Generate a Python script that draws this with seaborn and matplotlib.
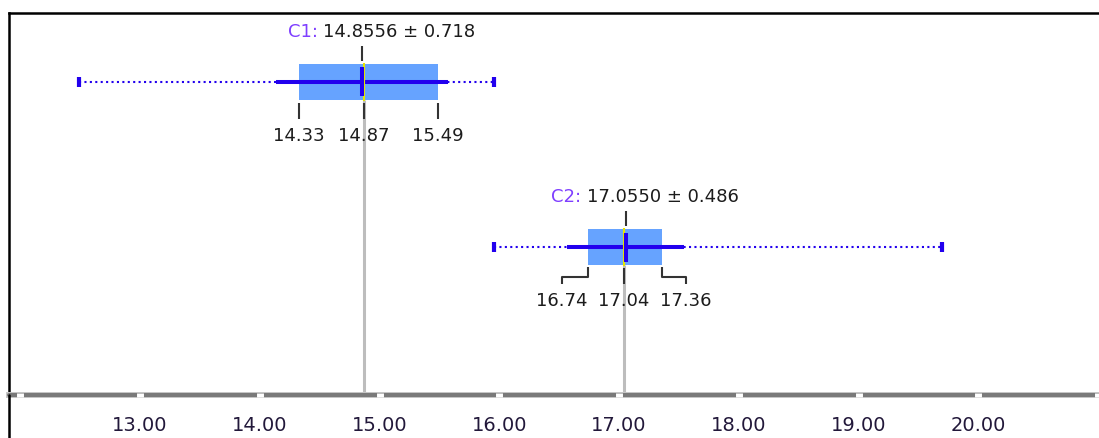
import numpy as np
import pandas as pd
import matplotlib.pyplot as plt
import seaborn as sns

# summary stats per group
names = ['C1', 'C2']
means = [14.8556, 17.0550]
sds = [0.718, 0.486]
q1s = [14.33, 16.74]
medians = [14.87, 17.04]
q3s = [15.49, 17.36]
mins = [12.49, 15.96]
maxs = [15.96, 19.70]
xticks = [12, 13, 14, 15, 16, 17, 18, 19, 20, 21]
xtick_labels = ['', '13.00', '14.00', '15.00', '16.00', '17.00', '18.00', '19.00', '20.00', '']

# horizontal shift (px) of the q1/median/q3 labels, crowded boxes get bent leaders
label_shift = [[0, 0, 0], [-26, 0, 24]]

df = pd.DataFrame({'name': names, 'mean': means, 'sd': sds, 'q1': q1s,
                   'median': medians, 'q3': q3s, 'min': mins, 'max': maxs})

W, H, DPI = 1099, 439, 100
box_blue = '#66a3ff'
line_blue = '#2200ee'
yellow = '#e6e600'
tick_col = '#333333'
txt_col = '#1c1c1c'
name_col = '#7f3fff'
fs = 13

sns.set_theme(style='white')
plt.rcParams['font.family'] = ['DejaVu Sans']

fig = plt.figure(figsize=(W / DPI, H / DPI), dpi=DPI)
ax_l, ax_r, ax_t, ax_b = 9, 1099, 14, 396
ax = fig.add_axes([ax_l / W, 1 - ax_b / H, (ax_r - ax_l) / W, (ax_b - ax_t) / H])
xlim = (11.906, 21.008)
ylim = (1.894, -0.414)
ax.set_xlim(*xlim)
ax.set_ylim(*ylim)
px_x = (xlim[1] - xlim[0]) / (ax_r - ax_l)
px_y = (ylim[0] - ylim[1]) / (ax_b - ax_t)

for i, row in df.iterrows():
    y = i
    # min..max dotted range
    ax.hlines(y, row['min'], row['max'], color=line_blue, lw=1.5,
              linestyle=(0, (1, 1.6)), zorder=2)
    ax.vlines([row['min'], row['max']], y - 5 * px_y, y + 5 * px_y,
              color=line_blue, lw=3, zorder=2)
    # guide line from the box down to the axis
    ax.vlines(row['median'], y + 18 * px_y, ylim[0], color='#bdbdbd', lw=2.2, zorder=1)
    # quartile box
    ax.barh(y, row['q3'] - row['q1'], left=row['q1'], height=36 * px_y,
            color=box_blue, lw=0, zorder=3)
    # mean +- sd
    ax.hlines(y, row['mean'] - row['sd'], row['mean'] + row['sd'],
              color=line_blue, lw=2.9, zorder=4)
    ax.vlines(row['median'], y - 19 * px_y, y + 19 * px_y, color=yellow, lw=1.5, zorder=5)
    ax.vlines(row['mean'], y - 14.5 * px_y, y + 14.5 * px_y, color=line_blue, lw=2.9, zorder=6)

    # title above the box
    ax.vlines(row['mean'], y - 36 * px_y, y - 21 * px_y, color=tick_col, lw=1.5)
    split = row['mean'] - 44 * px_x
    ax.text(split, y - 51 * px_y, row['name'] + ':', color=name_col, fontsize=fs,
            ha='right', va='center')
    ax.text(split + 5 * px_x, y - 51 * px_y, f"{row['mean']:.4f} \u00b1 {row['sd']:.3f}",
            color=txt_col, fontsize=fs, ha='left', va='center')

    # quartile labels below
    for v, s in zip([row['q1'], row['median'], row['q3']], label_shift[i]):
        if s == 0:
            xs = [v, v]
            ys = [y + 21 * px_y, y + 37 * px_y]
        else:
            xs = [v, v, v + s * px_x, v + s * px_x]
            ys = [y + 20 * px_y, y + 30 * px_y, y + 30 * px_y, y + 37 * px_y]
        ax.plot(xs, ys, color=tick_col, lw=1.5, solid_capstyle='butt', zorder=2)
        ax.text(v + s * px_x, y + 53 * px_y, f'{v:.2f}', color=txt_col, fontsize=fs,
                ha='center', va='center')

# frame and axis bar
ax.spines['right'].set_visible(False)
for side in ['top', 'left']:
    ax.spines[side].set_color('black')
    ax.spines[side].set_linewidth(1.8)
# left frame runs on to the bottom of the picture
fig.add_artist(plt.Line2D([ax_l / W, ax_l / W], [0, 1 - ax_b / H], color='black',
                          lw=1.8, transform=fig.transFigure))
ax.spines['bottom'].set_color('#c8c8c8')
ax.spines['bottom'].set_linewidth(4.3)
ax.axhline(ylim[0], color='#7a7a7a', lw=2.9, clip_on=False, zorder=2.6)
ax.xaxis.set_zorder(3)

ax.set_yticks([])
ax.set_xticks(xticks)
ax.set_xticklabels(xtick_labels)
ax.tick_params(axis='x', direction='inout', length=2.5, width=5, color='white',
               labelsize=14, labelcolor='#22183a', pad=13, bottom=True)
ax.set_xlabel('')
ax.set_ylabel('')

fig.savefig('out.png', dpi=DPI)
